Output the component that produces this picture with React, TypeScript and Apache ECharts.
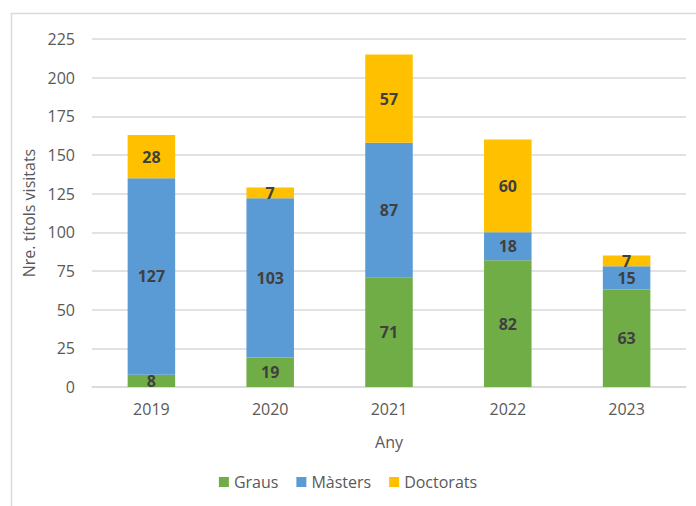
import React, { useEffect, useRef } from "react";
import * as echarts from "echarts";

const categories = ["2019", "2020", "2021", "2022", "2023"];
const graus = [8, 19, 71, 82, 63];
const masters = [127, 103, 87, 18, 15];
const doctorats = [28, 7, 57, 60, 7];
const yTicks = { min: 0, max: 225, interval: 25 };

const FONT = "'Open Sans', sans-serif";

export default function App() {
  const ref = useRef<HTMLDivElement>(null);
  useEffect(() => {
    if (!ref.current) return;
    const chart = echarts.init(ref.current, undefined, { renderer: "svg" });
    const label = {
      show: true,
      position: "inside",
      color: "#404040",
      fontWeight: "bold",
      fontSize: 16,
      fontFamily: FONT,
    };
    const mk = (name: string, data: number[], color: string) => ({
      name,
      type: "bar",
      stack: "total",
      data,
      barWidth: "40%",
      itemStyle: { color },
      label,
    });
    chart.setOption({
      animation: false,
      backgroundColor: "#ffffff",
      textStyle: { fontFamily: FONT },
      grid: { left: 92, right: 10, top: 39, bottom: 119, containLabel: false },
      graphic: [
        {
          type: "rect",
          shape: { x: 11.5, y: 13.5, width: 720, height: 600 },
          style: { fill: "none", stroke: "#d9d9d9", lineWidth: 1.5 },
          silent: true,
        },
      ],
      legend: {
        bottom: 11,
        left: "center",
        itemWidth: 10,
        itemHeight: 10,
        itemGap: 18,
        icon: "rect",
        textStyle: { color: "#595959", fontSize: 16, fontFamily: FONT },
        data: ["Graus", "Màsters", "Doctorats"],
      },
      xAxis: {
        type: "category",
        data: categories,
        name: "Any",
        nameLocation: "middle",
        nameGap: 47,
        nameTextStyle: { color: "#595959", fontSize: 16, fontFamily: FONT },
        axisLine: { lineStyle: { color: "#d9d9d9", width: 1.5 } },
        axisTick: { show: false },
        axisLabel: { color: "#595959", fontSize: 16, fontFamily: FONT, margin: 14 },
      },
      yAxis: {
        type: "value",
        min: yTicks.min,
        max: yTicks.max,
        interval: yTicks.interval,
        name: "Nre. títols visitats",
        nameLocation: "middle",
        nameGap: 55,
        nameTextStyle: { color: "#595959", fontSize: 16, fontFamily: FONT },
        axisLine: { show: false },
        axisTick: { show: false },
        axisLabel: { color: "#595959", fontSize: 16, fontFamily: FONT, margin: 17 },
        splitLine: { lineStyle: { color: "#d9d9d9", width: 1.5 } },
      },
      series: [
        mk("Graus", graus, "#70AD47"),
        mk("Màsters", masters, "#5B9BD5"),
        mk("Doctorats", doctorats, "#FFC000"),
      ],
    });
    return () => chart.dispose();
  }, []);
  return (
    <div
      ref={ref}
      style={{ position: "absolute", left: 0, top: 0, width: 696, height: 506 }}
    />
  );
}
